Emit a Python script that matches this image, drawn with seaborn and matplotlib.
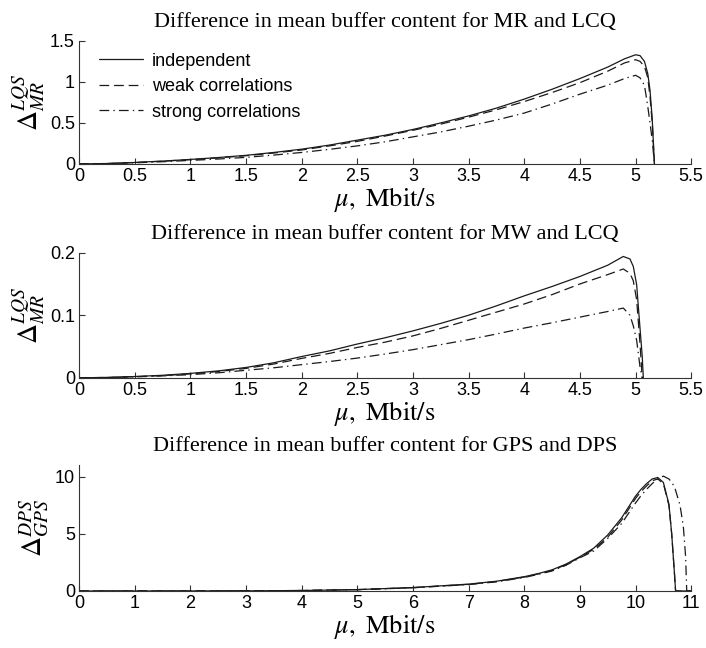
import matplotlib
matplotlib.use('Agg')
import matplotlib.pyplot as plt
import seaborn as sns

# --- data ---
labels = ['independent', 'weak correlations', 'strong correlations']

# panel 1: MR vs LCQ
x1 = [0, 0.25, 0.5, 0.75, 1, 1.25, 1.5, 1.75, 2, 2.25, 2.5, 2.75, 3, 3.25, 3.5, 3.75, 4,
      4.25, 4.5, 4.75, 4.9, 5.0, 5.04, 5.08, 5.11, 5.13, 5.15, 5.17]
indep1 = [0, 0.005, 0.018, 0.035, 0.055, 0.078, 0.105, 0.14, 0.18, 0.23, 0.29, 0.35, 0.42,
          0.5, 0.585, 0.68, 0.79, 0.91, 1.04, 1.18, 1.28, 1.33, 1.32, 1.25, 1.1, 0.9, 0.55, 0]
weak1 = [0, 0.005, 0.017, 0.033, 0.052, 0.074, 0.1, 0.133, 0.17, 0.22, 0.275, 0.34, 0.41,
         0.485, 0.57, 0.66, 0.76, 0.87, 0.99, 1.13, 1.23, 1.27, 1.25, 1.19, 1.05, 0.82, 0.5, 0]
strong1 = [0, 0.004, 0.014, 0.027, 0.043, 0.06, 0.08, 0.108, 0.14, 0.178, 0.22, 0.27, 0.33,
           0.39, 0.46, 0.535, 0.62, 0.73, 0.85, 0.96, 1.04, 1.08, 1.05, 0.96, 0.7, 0.5, 0.29, 0]

# panel 2: MW vs LCQ
x2 = [0, 0.25, 0.5, 0.75, 1, 1.25, 1.5, 1.75, 2, 2.25, 2.5, 2.75, 3, 3.25, 3.5, 3.75, 4,
      4.25, 4.5, 4.75, 4.89, 4.95, 4.98, 5.01, 5.04, 5.06, 5.07]
indep2 = [0, 0.0005, 0.002, 0.004, 0.007, 0.011, 0.0165, 0.024, 0.034, 0.043, 0.054, 0.064,
          0.075, 0.087, 0.1, 0.115, 0.131, 0.146, 0.162, 0.18, 0.194, 0.19, 0.178, 0.149,
          0.08, 0.035, 0]
weak2 = [0, 0.0005, 0.0018, 0.0035, 0.0062, 0.01, 0.015, 0.022, 0.031, 0.039, 0.0485, 0.057,
         0.067, 0.079, 0.092, 0.105, 0.118, 0.133, 0.15, 0.165, 0.174, 0.167, 0.155, 0.125,
         0.055, 0, 0]
strong2 = [0, 0.0004, 0.0015, 0.003, 0.005, 0.008, 0.012, 0.016, 0.021, 0.026, 0.0315, 0.038,
           0.045, 0.053, 0.061, 0.07, 0.0795, 0.088, 0.097, 0.106, 0.1115, 0.1, 0.083, 0.06,
           0.018, 0, 0]

# panel 3: GPS vs DPS
x3 = [0, 1, 2, 3, 4, 5, 6, 7, 7.5, 8, 8.25, 8.5, 8.75, 9, 9.25, 9.5, 9.75, 10, 10.1, 10.2,
      10.3, 10.4, 10.5, 10.6, 10.65, 10.7, 10.72, 10.8, 10.86, 10.9, 10.92, 11]
indep3 = [0, 0, 0.003, 0.01, 0.04, 0.12, 0.3, 0.6, 0.85, 1.25, 1.52, 1.85, 2.35, 3.0, 3.75,
          4.9, 6.4, 8.3, 8.9, 9.4, 9.8, 9.93, 9.5, 7.6, 5.0, 1.5, 0, 0, 0, 0, 0, 0]
weak3 = [0, 0, 0.003, 0.01, 0.04, 0.12, 0.29, 0.58, 0.83, 1.22, 1.49, 1.8, 2.3, 2.95, 3.65,
         4.7, 6.2, 8.1, 8.7, 9.2, 9.65, 9.8, 9.4, 7.5, 5.0, 1.5, 0, 0, 0, 0, 0, 0]
strong3 = [0, 0, 0.003, 0.01, 0.04, 0.11, 0.28, 0.56, 0.8, 1.18, 1.45, 1.75, 2.25, 2.9, 3.5,
           4.6, 5.9, 7.7, 8.35, 8.9, 9.4, 9.8, 10.05, 9.8, 9.5, 9.1, 8.8, 7.5, 5.6, 3.0, 0, 0]

titles = ['Difference in mean buffer content for MR and LCQ',
          'Difference in mean buffer content for MW and LCQ',
          'Difference in mean buffer content for GPS and DPS']
ylabels = [r'$\Delta^{LQS}_{MR}$', r'$\Delta^{LQS}_{MR}$', r'$\Delta^{DPS}_{GPS}$']
xticks = [[0, 0.5, 1, 1.5, 2, 2.5, 3, 3.5, 4, 4.5, 5, 5.5],
          [0, 0.5, 1, 1.5, 2, 2.5, 3, 3.5, 4, 4.5, 5, 5.5],
          list(range(12))]
xticklabels = [['0', '0.5', '1', '1.5', '2', '2.5', '3', '3.5', '4', '4.5', '5', '5.5'],
               ['0', '0.5', '1', '1.5', '2', '2.5', '3', '3.5', '4', '4.5', '5', '5.5'],
               [str(i) for i in range(12)]]
yticks = [[0, 0.5, 1, 1.5], [0, 0.1, 0.2], [0, 5, 10]]
yticklabels = [['0', '0.5', '1', '1.5'], ['0', '0.1', '0.2'], ['0', '5', '10']]
xlims = [(0, 5.5), (0, 5.5), (0, 11)]
ylims = [(0, 1.5), (0, 0.2), (0, 11)]

sns.set_theme(style='ticks')
plt.rcParams['font.family'] = ['Liberation Sans', 'DejaVu Sans']
plt.rcParams['mathtext.fontset'] = 'stix'
plt.rcParams['lines.scale_dashes'] = False
plt.rcParams['xtick.direction'] = 'in'
plt.rcParams['ytick.direction'] = 'in'
plt.rcParams['text.color'] = 'black'
plt.rcParams['axes.labelcolor'] = 'black'
plt.rcParams['xtick.labelcolor'] = 'black'
plt.rcParams['ytick.labelcolor'] = 'black'

styles = ['-', (0, (7, 3.5)), (0, (7, 3, 1, 3))]

fig = plt.figure(figsize=(7.06, 6.48), dpi=100)
boxes = [[0.112, 0.747, 0.867, 0.190],
         [0.112, 0.417, 0.867, 0.193],
         [0.112, 0.088, 0.867, 0.194]]
data = [(x1, [indep1, weak1, strong1]),
        (x2, [indep2, weak2, strong2]),
        (x3, [indep3, weak3, strong3])]

for i, (xs, series) in enumerate(data):
    ax = fig.add_axes(boxes[i])
    for ys, ls, lab in zip(series, styles, labels):
        sns.lineplot(x=xs, y=ys, ax=ax, color='k', lw=0.9, linestyle=ls,
                     label=lab if i == 0 else None)
    ax.set_xlim(*xlims[i])
    ax.set_ylim(*ylims[i])
    ax.set_xticks(xticks[i])
    ax.set_xticklabels(xticklabels[i])
    ax.set_yticks(yticks[i])
    ax.set_yticklabels(yticklabels[i])
    ax.tick_params(labelsize=13, length=4, width=0.8, color='#333333', pad=3)
    sns.despine(ax=ax)
    for sp in ['left', 'bottom']:
        ax.spines[sp].set_color('#333333')
        ax.spines[sp].set_linewidth(0.8)
    ax.set_title(titles[i], family='Liberation Serif', fontsize=16, pad=10)
    ax.set_xlabel(r'$\mu,\ \mathrm{Mbit/s}$', fontsize=19, labelpad=0)
    ax.set_ylabel(ylabels[i], fontsize=20, labelpad=2)
    if i == 0:
        ax.legend(loc='upper left', bbox_to_anchor=(0.02, 0.963), frameon=False,
                  fontsize=13, handlelength=2.45, handletextpad=0.5, labelspacing=0.47,
                  borderaxespad=0)
    elif ax.get_legend() is not None:
        ax.get_legend().remove()

fig.savefig('out.png', dpi=100)
